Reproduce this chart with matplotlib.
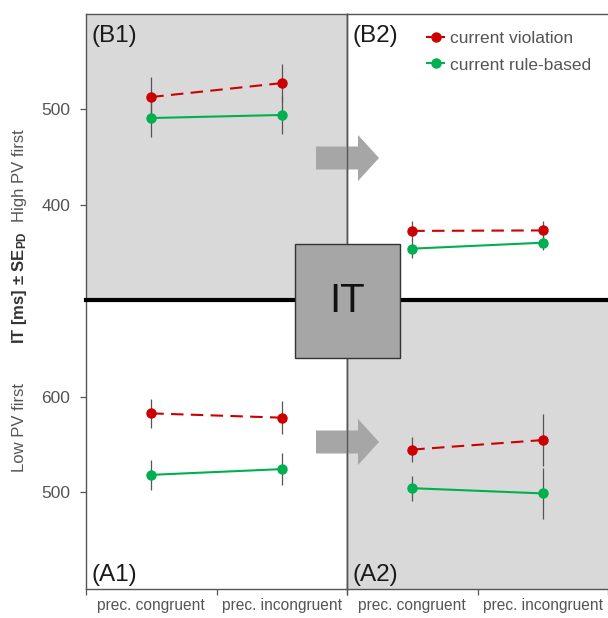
import matplotlib
matplotlib.use("Agg")
import matplotlib.pyplot as plt
from matplotlib.lines import Line2D
from matplotlib.patches import Polygon, Rectangle

plt.rcParams['font.family'] = ['Liberation Sans', 'DejaVu Sans']
plt.rcParams['mathtext.fontset'] = 'custom'
plt.rcParams['mathtext.rm'] = 'Liberation Sans'
plt.rcParams['mathtext.bf'] = 'Liberation Sans:bold'

# data (IT in ms, mean and SE_PD)
conditions = ["prec. congruent", "prec. incongruent"]
series_names = ["current violation", "current rule-based"]

b1_violation = [512.5, 527.0]
b1_violation_se = [21, 20]
b1_rule = [490.6, 493.8]
b1_rule_se = [20, 20]

b2_violation = [373.0, 373.5]
b2_violation_se = [10, 10]
b2_rule = [354.5, 360.7]
b2_rule_se = [10, 8]

a1_violation = [583.0, 578.5]
a1_violation_se = [15, 17]
a1_rule = [518.5, 524.5]
a1_rule_se = [15.5, 17]

a2_violation = [545.0, 555.0]
a2_violation_se = [13.5, 27]
a2_rule = [504.5, 499.0]
a2_rule_se = [13, 27]

RED = '#cc0000'
GREEN = '#00b050'
PANEL_GRAY = '#d9d9d9'
BLOCK_GRAY = '#a6a6a6'
EDGE = '#555555'
TXT = '#555555'

W, H = 608, 618
fig = plt.figure(figsize=(W / 100, H / 100), dpi=100)


def rect(x0, y0, x1, y1):
    # pixel box (top-left origin) -> figure fraction rect
    return [x0 / W, (H - y1) / H, (x1 - x0) / W, (y1 - y0) / H]


def fx(x, y):
    return (x / W, (H - y) / H)


xs = [0.5, 1.5]


def draw_panel(ax, viol, viol_se, rule, rule_se, ylim, face):
    ax.set_facecolor(face)
    ax.errorbar(xs, viol, yerr=viol_se, fmt='none', ecolor='#555555', elinewidth=0.9, zorder=1)
    ax.errorbar(xs, rule, yerr=rule_se, fmt='none', ecolor='#555555', elinewidth=0.9, zorder=1)
    ax.plot(xs, viol, color=RED, lw=1.5, ls=(0, (6, 3.5)), marker='o', ms=6.5, zorder=3)
    ax.plot(xs, rule, color=GREEN, lw=1.5, marker='o', ms=6.5, zorder=3)
    ax.set_xlim(0, 2)
    ax.set_ylim(*ylim)
    for s in ax.spines.values():
        s.set_color(EDGE)
        s.set_linewidth(1.0)
    ax.tick_params(which='both', colors=EDGE, labelcolor=TXT, labelsize=12.5, length=4.5, width=0.9, pad=7)


top_lim = (301, 599)
bot_lim = (399, 702)

ax_b1 = fig.add_axes(rect(86, 14, 347, 300))
ax_b2 = fig.add_axes(rect(347, 14, 608, 300))
ax_a1 = fig.add_axes(rect(86, 300, 347, 588.7))
ax_a2 = fig.add_axes(rect(347, 300, 608, 588.7))

draw_panel(ax_b1, b1_violation, b1_violation_se, b1_rule, b1_rule_se, top_lim, PANEL_GRAY)
draw_panel(ax_b2, b2_violation, b2_violation_se, b2_rule, b2_rule_se, top_lim, 'white')
draw_panel(ax_a1, a1_violation, a1_violation_se, a1_rule, a1_rule_se, bot_lim, 'white')
draw_panel(ax_a2, a2_violation, a2_violation_se, a2_rule, a2_rule_se, bot_lim, PANEL_GRAY)

# y axes only on the left
ax_b1.set_yticks([400, 500])
ax_a1.set_yticks([500, 600])
for ax in (ax_b2, ax_a2):
    ax.set_yticks([])
    ax.spines['right'].set_visible(False)
for ax in (ax_b1, ax_b2):
    ax.set_xticks([])
    ax.spines['bottom'].set_visible(False)
for ax in (ax_a1, ax_a2):
    ax.spines['top'].set_visible(False)
    ax.set_xticks([0, 1, 2])
    ax.set_xticklabels([])
    ax.set_xticks(xs, minor=True)
    ax.set_xticklabels(conditions, minor=True)
    ax.tick_params(axis='x', which='minor', length=0, labelsize=11.2, pad=7, labelcolor=TXT)
    ax.tick_params(axis='x', which='major', length=4)

# panel tags
ax_b1.text(0.02, 0.96, "(B1)", transform=ax_b1.transAxes, fontsize=17.5, va='top', ha='left', color='#1a1a1a')
ax_b2.text(0.02, 0.96, "(B2)", transform=ax_b2.transAxes, fontsize=17.5, va='top', ha='left', color='#1a1a1a')
ax_a1.text(0.02, 0.01, "(A1)", transform=ax_a1.transAxes, fontsize=17.5, va='bottom', ha='left', color='#1a1a1a')
ax_a2.text(0.02, 0.01, "(A2)", transform=ax_a2.transAxes, fontsize=17.5, va='bottom', ha='left', color='#1a1a1a')

# legend
handles = [Line2D([], [], color=RED, lw=1.5, marker='o', ms=6.5),
           Line2D([], [], color=GREEN, lw=1.5, marker='o', ms=6.5)]
leg = ax_b2.legend(handles, series_names, loc='upper left', bbox_to_anchor=(0.26, 0.985),
                   frameon=False, fontsize=12.5, handlelength=1.0, handletextpad=0.35,
                   labelspacing=0.68, borderaxespad=0.3)
for t in leg.get_texts():
    t.set_color(TXT)

# arrows from first to second block
for cy in (158, 442):
    pts = [(316, cy - 11.5), (358, cy - 11.5), (358, cy - 23), (379, cy),
           (358, cy + 23), (358, cy + 11.5), (316, cy + 11.5)]
    fig.add_artist(Polygon([fx(*p) for p in pts], closed=True, transform=fig.transFigure,
                           facecolor=BLOCK_GRAY, edgecolor='none', zorder=1))

# divider and thick separator
fig.add_artist(Line2D([347 / W, 347 / W], [(H - 14) / H, (H - 588.7) / H], transform=fig.transFigure,
                      color=EDGE, lw=1.0, zorder=2))
fig.add_artist(Line2D([86 / W, 1.0], [(H - 300) / H, (H - 300) / H], transform=fig.transFigure,
                      color='black', lw=3.0, zorder=2.5))

# central IT box
box = rect(295, 244, 400, 358)
fig.add_artist(Rectangle((box[0], box[1]), box[2], box[3], transform=fig.transFigure,
                         facecolor=BLOCK_GRAY, edgecolor='#333333', lw=1.0, zorder=3))
fig.text(347.5 / W, (H - 301) / H, "IT", fontsize=29, ha='center', va='center', color='#111111', zorder=4)

# y labels
fig.text(20 / W, (H - 176) / H, "High PV first", rotation=90, ha='center', va='center', fontsize=12, color=TXT)
fig.text(20 / W, (H - 428) / H, "Low PV first", rotation=90, ha='center', va='center', fontsize=12, color=TXT)
fig.text(20 / W, (H - 288) / H, r"IT [ms] ± $\mathbf{SE_{PD}}$", rotation=90, ha='center', va='center',
         fontsize=12, fontweight='bold', color='#333333')

fig.savefig("out.png", dpi=100)
